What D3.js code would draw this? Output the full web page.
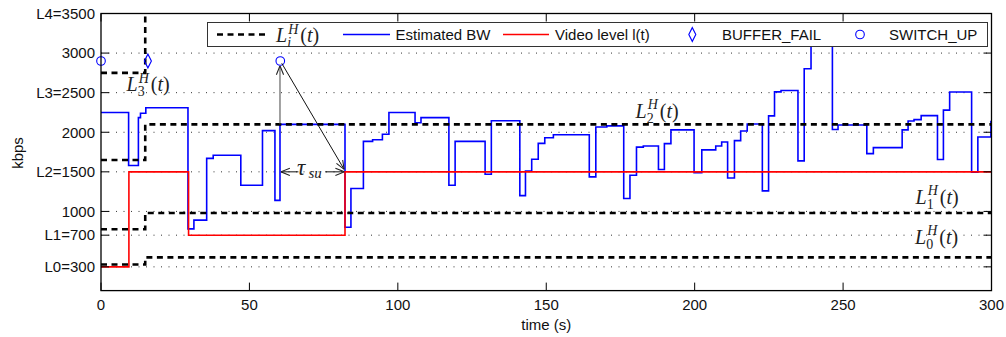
<!DOCTYPE html>
<html><head><meta charset="utf-8">
<script src="https://cdn.jsdelivr.net/npm/d3@7"></script>
<style>body{margin:0;background:#fff}svg{display:block}</style>
</head><body>
<svg id="c" width="1006" height="337"></svg>
<script>
// ---------- data ----------
const bwTimes = [0, 9.3, 12.6, 13.3, 15.1, 29.3, 31.3, 35.6, 37.8, 47.1, 54.4, 58.6, 60.3, 82.2, 84.2, 88.4, 91.5, 94.8, 97.0,
  105.8, 107.8, 117.2, 119.3, 129.4, 131.5, 141.1, 143.0, 145.1, 147.3, 149.5, 152.4, 164.5, 166.7, 170.4, 176.1, 178.2,
  180.4, 182.7, 187.8, 189.8, 192.0, 199.8, 202.4, 207.1, 209.1, 211.1, 213.4, 215.5, 217.7, 222.8, 224.9, 226.9, 229.1,
  234.8, 236.9, 239.2, 246.4, 248.3, 258.0, 260.2, 269.9, 271.9, 273.9, 276.3, 281.8, 283.8, 285.9, 293.3, 295.4, 299.8];
const bwValues = [2250, 1580, 2185, 2240, 2310, 780, 890, 1670, 1710, 1330, 2020, 1140, 2100, 800, 1290, 1885, 1905, 1975, 2250,
  2120, 2185, 1330, 1885, 1470, 2145, 1200, 1510, 1660, 1860, 1930, 1968, 1436, 2066, 2080, 1163, 1457,
  1812, 1827, 1529, 1857, 2030, 1490, 1778, 1827, 1877, 1423, 1894, 2015, 2104, 1260, 2207, 2510, 2528,
  1638, 2802, 3300, 2035, 2092, 1730, 1806, 2030, 2142, 2159, 2210, 1655, 2280, 2508, 1495, 1940, 2135];
const levelTimes = [0, 9.4, 29.5, 82.2];
const levelValues = [300, 1500, 700, 1500];
const thrTimes = [0, 14.9];
const thrL0 = [330, 420];
const thrL1 = [775, 980];
const thrL2 = [1650, 2100];
const thrL3 = [2750, 4200];
const endTime = 300;
const switchUpTimes = [0, 60.4];
const switchUpValues = [2900, 2900];
const bufferFailTimes = [15.8];
const bufferFailValues = [2900];
const xTickValues = [0, 50, 100, 150, 200, 250, 300];
const yTickValues = [300, 700, 1000, 1500, 2000, 2500, 3000, 3500];
const yTickLabels = ["L0=300", "L1=700", "1000", "L2=1500", "2000", "L3=2500", "3000", "L4=3500"];
const legendLabels = ["Estimated BW", "Video level l(t)", "BUFFER_FAIL", "SWITCH_UP"];

(function () {
// ---------- setup ----------
const svg = d3.select("#c");
const pL = 101, pR = 991.5, pT = 13.5, pB = 290.6;
const x = d3.scaleLinear().domain([0, 300]).range([pL, pR]);
const y = d3.scaleLinear().domain([0, 3500]).range([pB, pT]);
const sans = "'Liberation Sans', Arial, Helvetica, sans-serif";
const serif = "'Liberation Serif', 'Times New Roman', serif";
const BLUE = "#0000ff", RED = "#ff0000";

const defs = svg.append("defs");
defs.append("clipPath").attr("id", "clip")
  .append("rect").attr("x", pL).attr("y", pT).attr("width", pR - pL).attr("height", pB - pT);

// grid
svg.append("g").selectAll("line").data(yTickValues.filter(v => v < 3500)).join("line")
  .attr("x1", pL).attr("x2", pR).attr("y1", d => y(d)).attr("y2", d => y(d))
  .attr("stroke", "#333").attr("stroke-width", 1).attr("stroke-dasharray", "1,6.5");

function stepPts(ts, vs) {
  const p = ts.map((t, i) => [t, vs[i]]);
  p.push([endTime, vs[vs.length - 1]]);
  return p;
}
const stepLine = d3.line().x(d => x(d[0])).y(d => y(d[1])).curve(d3.curveStepAfter);
const plot = svg.append("g").attr("clip-path", "url(#clip)");

plot.append("path").attr("d", stepLine(stepPts(bwTimes, bwValues)))
  .attr("fill", "none").attr("stroke", BLUE).attr("stroke-width", 1.6);
plot.append("path").attr("d", stepLine(stepPts(levelTimes, levelValues)))
  .attr("fill", "none").attr("stroke", RED).attr("stroke-width", 1.6);
[thrL0, thrL1, thrL2, thrL3].forEach(vs => {
  plot.append("path").attr("d", stepLine(stepPts(thrTimes, vs)))
    .attr("fill", "none").attr("stroke", "#000").attr("stroke-width", 2.6).attr("stroke-dasharray", "6,4.5");
});

// markers
const diamond = d3.symbol().type(d3.symbolDiamond).size(42);
svg.append("g").selectAll("circle").data(switchUpTimes).join("circle")
  .attr("cx", (d) => x(d)).attr("cy", (d, i) => y(switchUpValues[i])).attr("r", 4.3)
  .attr("fill", "none").attr("stroke", BLUE).attr("stroke-width", 1.1);
svg.append("g").selectAll("path").data(bufferFailTimes).join("path")
  .attr("d", diamond).attr("transform", (d, i) => `translate(${x(d)},${y(bufferFailValues[i])}) scale(1,1.15)`)
  .attr("fill", "none").attr("stroke", BLUE).attr("stroke-width", 1.1);

// annotations (arrows)
defs.append("marker").attr("id", "ah").attr("viewBox", "0 0 10 10").attr("refX", 10).attr("refY", 5)
  .attr("markerWidth", 9).attr("markerHeight", 9).attr("markerUnits", "userSpaceOnUse").attr("orient", "auto")
  .append("path").attr("d", "M0,1 L10,5 L0,9").attr("fill", "none").attr("stroke", "#222").attr("stroke-width", 1.2);
const annArrows = [
  {from: [60.3, 2100], to: [60.3, 2840], color: "#444"},
  {from: [60.9, 2871], to: [81.9, 1532], color: "#111"},
  {from: [66.5, 1500], to: [60.6, 1500], color: "#111"},
  {from: [75.5, 1500], to: [82.0, 1500], color: "#111"}
];
annArrows.forEach(a => {
  svg.append("line").attr("x1", x(a.from[0])).attr("y1", y(a.from[1])).attr("x2", x(a.to[0])).attr("y2", y(a.to[1]))
    .attr("stroke", a.color).attr("stroke-width", 1).attr("marker-end", "url(#ah)");
});
// tau_su text
svg.append("text").attr("x", x(66.0)).attr("y", y(1500) + 3).attr("font-family", serif)
  .attr("font-size", 23).attr("font-style", "italic").attr("fill", "#222").text("τ");
svg.append("text").attr("x", x(66.0) + 11.5).attr("y", y(1500) + 6.5).attr("font-family", serif)
  .attr("font-size", 15).attr("font-style", "italic").attr("fill", "#222").text("su");

// math labels L_i^H(t)
function mathLabel(px, py, sub, size, subItalic) {
  const g = svg.append("g").attr("font-family", serif).attr("fill", "#222");
  const L = g.append("text").attr("x", px).attr("y", py).attr("font-size", size).attr("font-style", "italic").text("L");
  const sx = px + L.node().getComputedTextLength() + 1;
  const sup = g.append("text").attr("x", sx).attr("y", py - 0.42 * size).attr("font-size", size * 0.7)
    .attr("font-style", "italic").text("H");
  const sb = g.append("text").attr("x", sx - 1).attr("y", py + 0.27 * size).attr("font-size", size * 0.7)
    .attr("font-style", subItalic ? "italic" : "normal").text(sub);
  const w = Math.max(sup.node().getComputedTextLength(), sb.node().getComputedTextLength());
  const t = g.append("text").attr("x", sx + w + 2).attr("y", py).attr("font-size", size);
  t.append("tspan").text("(");
  t.append("tspan").attr("font-style", "italic").text("t");
  t.append("tspan").text(")");
}
mathLabel(126.5, 91, "3", 20);
mathLabel(635.5, 117.5, "2", 20);
mathLabel(915.5, 203.5, "1", 20);
mathLabel(915, 243.5, "0", 20);

// axes frame and ticks
const frame = svg.append("g");
frame.append("rect").attr("x", pL).attr("y", pT).attr("width", pR - pL).attr("height", pB - pT)
  .attr("fill", "none").attr("stroke", "#000").attr("stroke-width", 1.3);
const tl = 8;
frame.selectAll(".xt").data(xTickValues).join("line")
  .attr("x1", d => x(d)).attr("x2", d => x(d)).attr("y1", pB).attr("y2", pB - tl).attr("stroke", "#000");
frame.selectAll(".xt2").data(xTickValues).join("line")
  .attr("x1", d => x(d)).attr("x2", d => x(d)).attr("y1", pT).attr("y2", pT + tl).attr("stroke", "#000");
frame.selectAll(".yt").data(yTickValues).join("line")
  .attr("y1", d => y(d)).attr("y2", d => y(d)).attr("x1", pL).attr("x2", pL + tl).attr("stroke", "#000");
frame.selectAll(".yt2").data(yTickValues).join("line")
  .attr("y1", d => y(d)).attr("y2", d => y(d)).attr("x1", pR).attr("x2", pR - tl).attr("stroke", "#000");

frame.selectAll(".xl").data(xTickValues).join("text")
  .attr("x", d => x(d)).attr("y", 310).attr("text-anchor", "middle")
  .attr("font-family", sans).attr("font-size", 15).attr("fill", "#111").text(d => d);
frame.selectAll(".yl").data(yTickValues).join("text")
  .attr("x", 95).attr("y", d => y(d) + 5.3).attr("text-anchor", "end")
  .attr("font-family", sans).attr("font-size", 15).attr("fill", "#111").text((d, i) => yTickLabels[i]);

svg.append("text").attr("x", (pL + pR) / 2).attr("y", 330).attr("text-anchor", "middle")
  .attr("font-family", sans).attr("font-size", 15).attr("fill", "#111").text("time (s)");
svg.append("text").attr("transform", "translate(23,153) rotate(-90)").attr("text-anchor", "middle")
  .attr("font-family", sans).attr("font-size", 15).attr("fill", "#111").text("kbps");

// legend
const lg = svg.append("g");
lg.append("rect").attr("x", 207.5).attr("y", 22.5).attr("width", 780).attr("height", 24)
  .attr("fill", "#fff").attr("stroke", "#333").attr("stroke-width", 1);
const ly = 34.5;
lg.append("line").attr("x1", 217).attr("x2", 268).attr("y1", ly).attr("y2", ly)
  .attr("stroke", "#000").attr("stroke-width", 2.6).attr("stroke-dasharray", "6,4.5");
mathLabel(276, 42, "i", 20, true);
lg.append("line").attr("x1", 343).attr("x2", 390).attr("y1", ly).attr("y2", ly).attr("stroke", BLUE).attr("stroke-width", 1.6);
lg.append("line").attr("x1", 503).attr("x2", 549).attr("y1", ly).attr("y2", ly).attr("stroke", RED).attr("stroke-width", 1.6);
lg.append("path").attr("d", diamond).attr("transform", `translate(692.3,${ly}) scale(1,1.15)`)
  .attr("fill", "none").attr("stroke", BLUE).attr("stroke-width", 1.1);
lg.append("circle").attr("cx", 860).attr("cy", ly).attr("r", 4.3).attr("fill", "none").attr("stroke", BLUE).attr("stroke-width", 1.1);
const legendX = [395.5, 555, 722, 889];
lg.selectAll(".lt").data(legendLabels).join("text")
  .attr("x", (d, i) => legendX[i]).attr("y", 40)
  .attr("font-family", sans).attr("font-size", 15).attr("fill", "#111").text(d => d);
})();
</script>
</body></html>
